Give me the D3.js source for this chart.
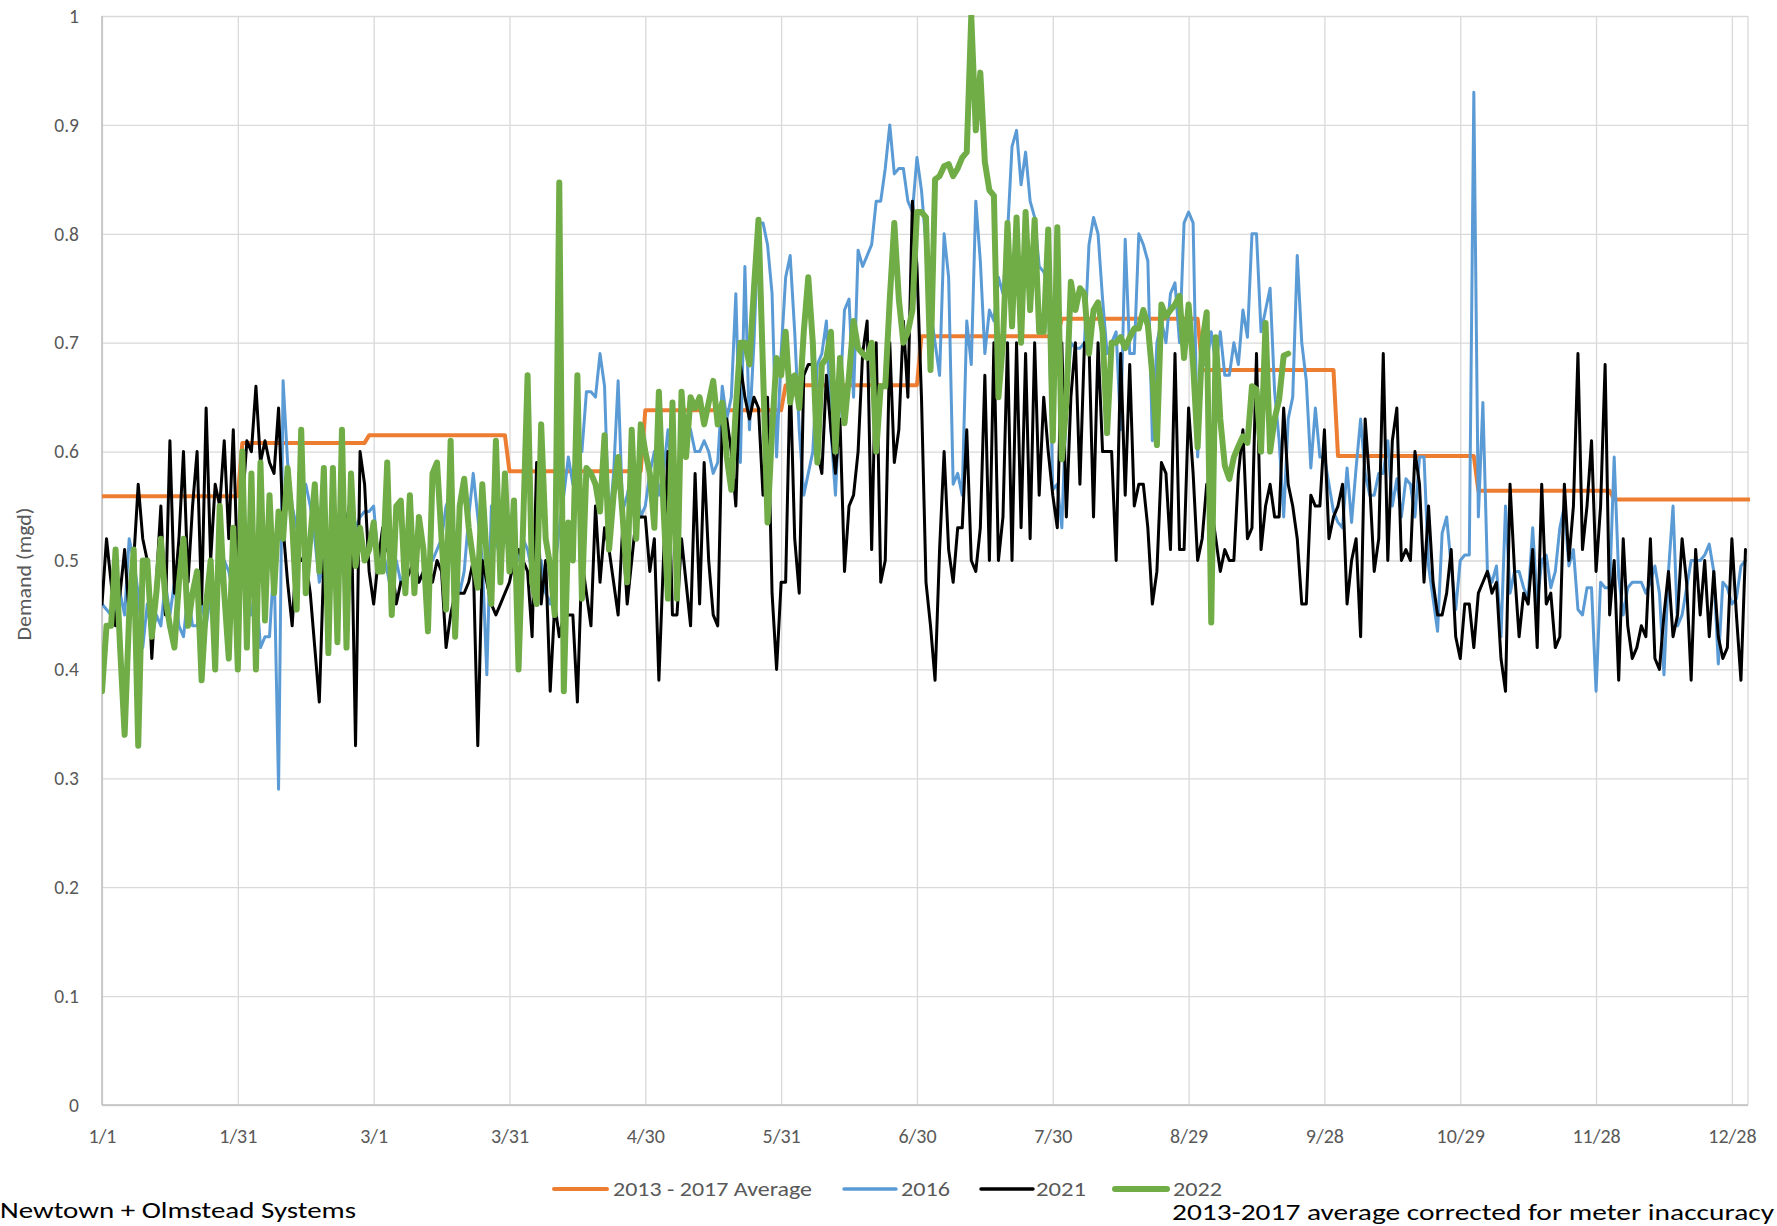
<!DOCTYPE html>
<html><head><meta charset="utf-8">
<script src="https://cdn.jsdelivr.net/npm/d3@7"></script>
<style>
body{margin:0;background:#fff;}
svg{display:block;font-family:Carlito,Lato,"Open Sans",sans-serif;}
</style>
</head><body>
<svg id="chart" width="1777" height="1226"></svg>
<script>
// ---- DATA ----
const tickDays = [0,30,60,90,120,150,180,210,240,270,300,330,360];
const tickLabels = ["1/1","1/31","3/1","3/31","4/30","5/31","6/30","7/30","8/29","9/28","10/29","11/28","12/28"];
const yTicks = [0,0.1,0.2,0.3,0.4,0.5,0.6,0.7,0.8,0.9,1];
const yTickLabels = ["0","0.1","0.2","0.3","0.4","0.5","0.6","0.7","0.8","0.9","1"];

// 2013 - 2017 average, one value per month
const monthStartDays = [0,31,59,90,120,151,181,212,243,273,304,334];
const avgMonthly = [0.559,0.608,0.615,0.582,0.638,0.661,0.706,0.722,0.675,0.596,0.564,0.556];
const lastDay = 364;

const demand2016 = [
0.46,0.455,0.45,0.45,0.47,0.45,0.52,0.50,0.47,0.42,
0.46,0.43,0.45,0.44,0.48,0.45,0.48,0.44,0.43,0.47,
0.44,0.44,0.46,0.44,0.47,0.44,0.49,0.50,0.49,0.47,
0.50,0.49,0.46,0.45,0.48,0.42,0.43,0.43,0.50,0.29,
0.665,0.59,0.55,0.53,0.55,0.57,0.55,0.52,0.48,0.50,
0.52,0.51,0.49,0.50,0.51,0.52,0.53,0.54,0.545,0.545,
0.55,0.50,0.51,0.49,0.47,0.50,0.48,0.49,0.51,0.50,
0.48,0.49,0.50,0.50,0.51,0.52,0.55,0.56,0.50,0.47,
0.49,0.54,0.58,0.54,0.50,0.395,0.55,0.52,0.50,0.52,
0.54,0.52,0.50,0.52,0.51,0.49,0.48,0.50,0.47,0.46,
0.49,0.53,0.56,0.595,0.57,0.62,0.60,0.655,0.655,0.65,
0.69,0.66,0.53,0.58,0.665,0.545,0.56,0.58,0.57,0.54,
0.55,0.58,0.60,0.56,0.58,0.62,0.57,0.58,0.60,0.63,
0.62,0.60,0.60,0.61,0.60,0.58,0.59,0.66,0.63,0.65,
0.745,0.59,0.77,0.62,0.70,0.81,0.81,0.79,0.745,0.595,
0.69,0.76,0.78,0.71,0.62,0.56,0.58,0.60,0.68,0.69,
0.72,0.62,0.56,0.65,0.73,0.74,0.65,0.785,0.77,0.78,
0.79,0.83,0.83,0.86,0.90,0.855,0.86,0.86,0.83,0.82,
0.87,0.84,0.79,0.73,0.70,0.67,0.80,0.76,0.57,0.58,
0.56,0.72,0.68,0.83,0.775,0.69,0.73,0.72,0.76,0.745,
0.80,0.88,0.895,0.845,0.875,0.83,0.815,0.77,0.765,0.755,
0.565,0.57,0.53,0.645,0.70,0.695,0.695,0.70,0.79,0.815,
0.80,0.74,0.69,0.70,0.71,0.62,0.795,0.69,0.69,0.80,
0.79,0.775,0.61,0.70,0.72,0.70,0.745,0.755,0.70,0.81,
0.82,0.81,0.595,0.68,0.68,0.71,0.68,0.71,0.67,0.67,
0.70,0.68,0.73,0.705,0.80,0.80,0.71,0.73,0.75,0.655,
0.61,0.54,0.63,0.65,0.78,0.70,0.665,0.585,0.64,0.595,
0.595,0.57,0.545,0.535,0.53,0.585,0.535,0.585,0.63,0.58,
0.56,0.56,0.58,0.58,0.61,0.55,0.575,0.54,0.575,0.57,
0.54,0.595,0.595,0.495,0.465,0.435,0.525,0.54,0.495,0.455,
0.50,0.505,0.505,0.93,0.54,0.645,0.49,0.48,0.495,0.43,
0.55,0.47,0.49,0.49,0.475,0.465,0.53,0.46,0.50,0.505,
0.475,0.49,0.53,0.55,0.495,0.51,0.455,0.45,0.475,0.475,
0.38,0.48,0.475,0.475,0.595,0.485,0.45,0.475,0.48,0.48,
0.48,0.47,0.48,0.495,0.47,0.395,0.49,0.55,0.44,0.45,
0.475,0.50,0.50,0.50,0.505,0.515,0.49,0.405,0.48,0.475,
0.46,0.465,0.495,0.50
];

const demand2021 = [
0.46,0.52,0.48,0.44,0.47,0.51,0.45,0.50,0.57,0.52,
0.50,0.41,0.48,0.55,0.45,0.61,0.47,0.52,0.60,0.48,
0.55,0.60,0.46,0.64,0.50,0.57,0.55,0.61,0.52,0.62,
0.48,0.55,0.61,0.60,0.66,0.59,0.61,0.59,0.58,0.64,
0.53,0.48,0.44,0.51,0.50,0.50,0.47,0.42,0.37,0.50,
0.52,0.51,0.48,0.50,0.535,0.56,0.33,0.60,0.57,0.49,
0.46,0.50,0.53,0.51,0.50,0.46,0.48,0.48,0.49,0.50,
0.48,0.49,0.50,0.48,0.50,0.49,0.42,0.45,0.47,0.47,
0.47,0.48,0.50,0.33,0.50,0.48,0.46,0.45,0.46,0.47,
0.48,0.50,0.51,0.50,0.49,0.43,0.59,0.46,0.50,0.38,
0.46,0.43,0.45,0.45,0.45,0.37,0.50,0.47,0.44,0.55,
0.48,0.53,0.51,0.48,0.45,0.53,0.46,0.50,0.54,0.54,
0.54,0.49,0.52,0.39,0.50,0.60,0.45,0.45,0.52,0.48,
0.44,0.58,0.46,0.59,0.50,0.45,0.44,0.63,0.63,0.60,
0.55,0.68,0.65,0.63,0.65,0.64,0.56,0.65,0.47,0.40,
0.48,0.48,0.67,0.52,0.47,0.67,0.68,0.68,0.60,0.58,
0.67,0.62,0.58,0.63,0.49,0.55,0.56,0.60,0.69,0.72,
0.51,0.70,0.48,0.50,0.70,0.59,0.62,0.72,0.65,0.83,
0.77,0.65,0.48,0.44,0.39,0.51,0.60,0.51,0.48,0.53,
0.53,0.62,0.50,0.49,0.53,0.67,0.50,0.70,0.50,0.54,
0.70,0.50,0.70,0.53,0.69,0.52,0.70,0.56,0.65,0.60,
0.56,0.53,0.70,0.54,0.65,0.70,0.57,0.70,0.70,0.54,
0.70,0.60,0.60,0.60,0.50,0.69,0.56,0.68,0.55,0.57,
0.57,0.53,0.46,0.49,0.59,0.58,0.51,0.69,0.51,0.51,
0.64,0.58,0.50,0.52,0.57,0.55,0.52,0.49,0.51,0.50,
0.50,0.58,0.62,0.52,0.53,0.69,0.51,0.55,0.57,0.54,
0.54,0.64,0.57,0.55,0.52,0.46,0.46,0.56,0.55,0.55,
0.62,0.52,0.54,0.55,0.57,0.46,0.50,0.52,0.43,0.63,
0.57,0.49,0.52,0.69,0.50,0.61,0.64,0.50,0.51,0.50,
0.60,0.57,0.48,0.55,0.48,0.45,0.45,0.47,0.51,0.43,
0.41,0.46,0.46,0.42,0.47,0.48,0.49,0.47,0.48,0.41,
0.38,0.57,0.49,0.43,0.47,0.46,0.51,0.42,0.57,0.46,
0.47,0.42,0.43,0.57,0.50,0.55,0.69,0.51,0.55,0.61,
0.49,0.55,0.68,0.45,0.50,0.39,0.52,0.44,0.41,0.42,
0.44,0.43,0.52,0.41,0.40,0.45,0.49,0.43,0.45,0.52,
0.48,0.39,0.51,0.45,0.50,0.43,0.49,0.43,0.41,0.42,
0.52,0.45,0.39,0.51
];

const demand2022 = [
0.38,0.44,0.44,0.51,0.42,0.34,0.45,0.51,0.33,0.50,
0.50,0.43,0.47,0.52,0.465,0.44,0.42,0.48,0.52,0.44,
0.47,0.49,0.39,0.46,0.50,0.40,0.55,0.47,0.41,0.53,
0.40,0.60,0.42,0.58,0.40,0.59,0.445,0.56,0.47,0.545,
0.52,0.585,0.535,0.455,0.62,0.47,0.52,0.57,0.49,0.585,
0.415,0.585,0.425,0.62,0.42,0.58,0.495,0.53,0.50,0.51,
0.535,0.49,0.49,0.59,0.45,0.55,0.555,0.47,0.56,0.47,
0.54,0.51,0.435,0.58,0.59,0.52,0.455,0.61,0.43,0.55,
0.575,0.53,0.50,0.475,0.57,0.50,0.46,0.61,0.48,0.58,
0.49,0.555,0.40,0.53,0.67,0.48,0.46,0.625,0.52,0.495,
0.45,0.847,0.38,0.535,0.50,0.67,0.465,0.585,0.58,0.57,
0.545,0.615,0.51,0.56,0.595,0.54,0.48,0.62,0.52,0.625,
0.60,0.58,0.53,0.655,0.55,0.465,0.645,0.465,0.655,0.595,
0.65,0.64,0.65,0.625,0.645,0.665,0.625,0.645,0.595,0.565,
0.64,0.70,0.70,0.68,0.75,0.813,0.675,0.535,0.62,0.686,
0.67,0.71,0.645,0.67,0.64,0.71,0.76,0.70,0.59,0.68,
0.686,0.71,0.60,0.686,0.626,0.67,0.72,0.695,0.69,0.686,
0.70,0.60,0.66,0.66,0.74,0.81,0.74,0.70,0.71,0.73,
0.82,0.82,0.815,0.675,0.85,0.853,0.862,0.864,0.853,0.86,
0.87,0.875,1.0,0.895,0.948,0.866,0.84,0.835,0.65,0.70,
0.81,0.715,0.815,0.70,0.82,0.73,0.813,0.71,0.71,0.804,
0.61,0.806,0.593,0.645,0.756,0.73,0.75,0.745,0.69,0.73,
0.737,0.71,0.617,0.70,0.70,0.705,0.695,0.705,0.713,0.713,
0.73,0.716,0.67,0.606,0.735,0.724,0.73,0.735,0.743,0.686,
0.735,0.68,0.604,0.70,0.728,0.443,0.705,0.63,0.587,0.575,
0.595,0.605,0.614,0.608,0.66,0.657,0.60,0.718,0.60,0.63,
0.648,0.688,0.69
];

const seriesNames = ["2013 - 2017 Average","2016","2021","2022"];
const seriesColors = ["#ED7D31","#5B9BD5","#000000","#70AD47"];

// ---- CHART ----
const svg = d3.select("#chart");
const L = 102, R = 1750, T = 16, B = 1105;
const x = d3.scaleLinear().domain([0, lastDay]).range([L, R]);
const y = d3.scaleLinear().domain([0, 1]).range([B, T]);

// daily average built from the monthly table
const avgDaily = d3.range(0, lastDay + 1).map(d => avgMonthly[d3.bisectRight(monthStartDays, d) - 1]);

const gy = svg.append("g").attr("transform", `translate(${L},0)`)
  .call(d3.axisLeft(y).tickValues(yTicks).tickFormat((d,i)=>yTickLabels[i]).tickSize(-(1748-L)).tickPadding(23));
gy.select(".domain").remove();
gy.selectAll(".tick line").attr("stroke", "#D9D9D9").attr("stroke-width", 1.3);
gy.selectAll(".tick text").attr("fill", "#595959").attr("font-size", 19.5).attr("font-family", "Carlito,Lato,sans-serif");

const gx = svg.append("g").attr("transform", `translate(0,${B})`)
  .call(d3.axisBottom(x).tickValues(tickDays).tickFormat((d,i)=>tickLabels[i]).tickSize(-(B-T)).tickPadding(24));
gx.select(".domain").remove();
gx.selectAll(".tick line").attr("stroke", "#D9D9D9").attr("stroke-width", 1.3);
gx.selectAll(".tick text").attr("fill", "#595959").attr("font-size", 20).attr("font-family", "Carlito,Lato,sans-serif");

// right border of plot area
svg.append("line").attr("x1", 1748).attr("x2", 1748).attr("y1", T).attr("y2", B)
  .attr("stroke", "#D9D9D9").attr("stroke-width", 1.3);
// axis lines
svg.append("line").attr("x1", L).attr("x2", L).attr("y1", T).attr("y2", B).attr("stroke", "#BFBFBF").attr("stroke-width", 1.5);
svg.append("line").attr("x1", L).attr("x2", 1748).attr("y1", B).attr("y2", B).attr("stroke", "#BFBFBF").attr("stroke-width", 1.5);

svg.append("defs").append("clipPath").attr("id", "plotclip")
  .append("rect").attr("x", L).attr("y", T - 1).attr("width", 1748 - L + 2).attr("height", B - T + 2);

const line = d3.line().x((d,i)=>x(i)).y(d=>y(d));
const plot = svg.append("g").attr("clip-path", "url(#plotclip)");
const allSeries = [avgDaily, demand2016, demand2021, demand2022];
const widths = [4, 3, 3, 6];
allSeries.forEach((s, k) => {
  plot.append("path").datum(s).attr("d", line)
    .attr("fill", "none").attr("stroke", seriesColors[k]).attr("stroke-width", widths[k])
    .attr("stroke-linejoin", "round").attr("stroke-linecap", "round");
});

// y axis title
svg.append("text").attr("transform", "translate(31,574) rotate(-90)")
  .attr("text-anchor", "middle").attr("fill", "#595959").attr("font-size", 19.5)
  .attr("textLength", 133).attr("lengthAdjust", "spacingAndGlyphs")
  .text("Demand (mgd)");

// legend
const legY = 1189;
const legItems = [
  {x1:554, x2:607, tx:613, tl:199},
  {x1:844, x2:896, tx:901, tl:49},
  {x1:981, x2:1033, tx:1036, tl:50},
  {x1:1115, x2:1167, tx:1173, tl:49}
];
const legW = [4, 3.5, 3.5, 6];
legItems.forEach((it, k) => {
  svg.append("line").attr("x1", it.x1).attr("x2", it.x2).attr("y1", legY).attr("y2", legY)
    .attr("stroke", seriesColors[k]).attr("stroke-width", legW[k]).attr("stroke-linecap", "round");
  svg.append("text").attr("x", it.tx).attr("y", legY + 7).attr("fill", "#595959").attr("font-size", 19.5)
    .attr("textLength", it.tl).attr("lengthAdjust", "spacingAndGlyphs").text(seriesNames[k]);
});

// footnotes
svg.append("text").attr("x", 0).attr("y", 1218).attr("fill", "#000").attr("font-size", 23)
  .attr("textLength", 356).attr("lengthAdjust", "spacingAndGlyphs").text("Newtown + Olmstead Systems");
svg.append("text").attr("x", 1172).attr("y", 1220).attr("fill", "#000").attr("font-size", 23)
  .attr("textLength", 602).attr("lengthAdjust", "spacingAndGlyphs").text("2013-2017 average corrected for meter inaccuracy");
</script>
</body></html>
